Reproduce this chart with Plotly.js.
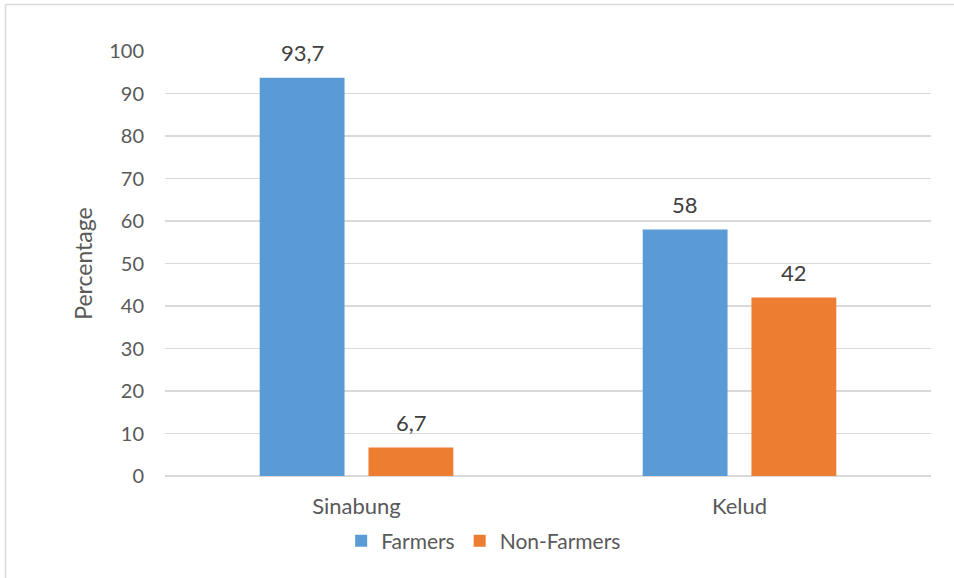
<!DOCTYPE html>
<html>
<head>
<meta charset="utf-8">
<script src="https://cdn.plot.ly/plotly-3.0.1.min.js"></script>
<style>
  html, body { margin: 0; padding: 0; background: #ffffff; }
  #chart { width: 954px; height: 578px; }
</style>
</head>
<body>
<div id="chart"></div>
<script>
// Occupation share of respondents at two volcano sites
const sites = ['Sinabung', 'Kelud'];
const farmers = [93.7, 58];
const nonFarmers = [6.7, 42];
const yTicks = [0, 10, 20, 30, 40, 50, 60, 70, 80, 90, 100];

const FONT = 'Lato, "Open Sans", sans-serif';
const TEXT = '#595959';
const LABEL = '#404040';

function barTrace(name, values, color) {
  return {
    type: 'bar', name: name, x: sites, y: values,
    marker: { color: color },
    hoverinfo: 'skip'
  };
}

const traces = [
  barTrace('Farmers', farmers, '#5b9bd5'),
  barTrace('Non-Farmers', nonFarmers, '#ed7d31')
];

// value labels above each bar, offset to the bar's slot within its group
const SLOT = 54.5;
function valueLabels(values, dx) {
  return values.map((v, i) => ({
    x: sites[i], y: v, xref: 'x', yref: 'y',
    text: String(v).replace('.', ','),
    showarrow: false, xshift: dx, yshift: 25, yanchor: 'middle',
    font: { family: FONT, size: 22, color: LABEL }
  }));
}

const layout = {
  width: 954, height: 578,
  margin: { l: 165, r: 23, t: 51, b: 102, autoexpand: false },
  paper_bgcolor: '#ffffff', plot_bgcolor: '#ffffff',
  font: { family: FONT, size: 20, color: TEXT },
  barmode: 'group', bargap: 0.432, bargroupgap: 0.22,
  showlegend: true,
  legend: {
    orientation: 'h', x: 0.23, xanchor: 'left',
    yref: 'container', y: 0.064, yanchor: 'middle',
    bgcolor: 'rgba(0,0,0,0)',
    font: { family: FONT, size: 21, color: TEXT },
    itemwidth: 30, traceorder: 'normal'
  },
  xaxis: {
    showgrid: false, zeroline: false, showline: false, ticks: '',
    ticklabelstandoff: 15,
    tickfont: { family: FONT, size: 22, color: TEXT }
  },
  yaxis: {
    range: [0, 100], tickvals: yTicks, ticks: '',
    ticklabelstandoff: 20,
    showgrid: true, gridcolor: '#d9d9d9', gridwidth: 1.3,
    zeroline: true, zerolinecolor: '#d9d9d9', zerolinewidth: 1.3,
    showline: false, tickfont: { family: FONT, size: 20, color: TEXT },
    title: { text: 'Percentage', font: { family: FONT, size: 23, color: TEXT }, standoff: 10 }
  },
  annotations: valueLabels(farmers, -SLOT).concat(valueLabels(nonFarmers, SLOT)),
  shapes: [
    // chart frame, left and top edges
    { type: 'line', xref: 'paper', yref: 'paper', x0: -0.2082, x1: 1.04, y0: 1.1094, y1: 1.1094,
      line: { color: '#d9d9d9', width: 1.5 } },
    { type: 'line', xref: 'paper', yref: 'paper', x0: -0.2082, x1: -0.2082, y0: 1.1094, y1: -0.3,
      line: { color: '#d9d9d9', width: 1.5 } }
  ]
};

Plotly.newPlot('chart', traces, layout, { staticPlot: true, displayModeBar: false });
</script>
</body>
</html>
